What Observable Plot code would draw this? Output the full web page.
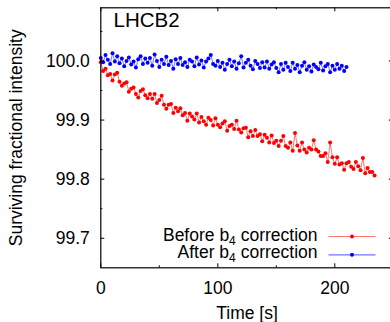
<!DOCTYPE html>
<html><head><meta charset="utf-8">
<script src="https://cdn.jsdelivr.net/npm/d3@7"></script>
<script src="https://cdn.jsdelivr.net/npm/@observablehq/plot@0.6"></script>
<style>body{margin:0;background:#fff;}</style>
</head><body><div id="chart"></div>
<script>
// ---- data ----
const sampleStep = 2; // seconds between samples
const beforeValues = [
  99.998, 99.983, 99.987, 99.976, 99.978, 99.967, 99.977, 99.980, 99.965, 99.958,
  99.962, 99.964, 99.948, 99.953, 99.955, 99.944, 99.938, 99.949, 99.952, 99.942,
  99.937, 99.944, 99.936, 99.944, 99.929, 99.934, 99.941, 99.926, 99.919, 99.926,
  99.927, 99.912, 99.921, 99.915, 99.920, 99.908, 99.912, 99.899, 99.911, 99.906,
  99.901, 99.911, 99.896, 99.905, 99.898, 99.892, 99.904, 99.900, 99.891, 99.903,
  99.892, 99.888, 99.894, 99.898, 99.882, 99.890, 99.892, 99.885, 99.899, 99.884,
  99.879, 99.886, 99.887, 99.871, 99.881, 99.873, 99.883, 99.873, 99.876, 99.864,
  99.875, 99.870, 99.862, 99.874, 99.861, 99.865, 99.856, 99.865, 99.873, 99.856,
  99.853, 99.862, 99.848, 99.878, 99.857, 99.848, 99.862, 99.850, 99.845, 99.853,
  99.850, 99.866, 99.850, 99.847, 99.839, 99.839, 99.844, 99.829, 99.862, 99.837,
  99.826, 99.837, 99.825, 99.827, 99.816, 99.827, 99.829, 99.821, 99.817, 99.829,
  99.822, 99.815, 99.836, 99.810, 99.819, 99.812, 99.812, 99.806
];
const afterValues = [
  100.005, 99.998, 100.010, 100.002, 99.995, 100.013, 99.999, 100.008, 99.996, 100.004,
  99.991, 100.000, 100.006, 99.994, 99.999, 99.989, 100.003, 100.008, 99.995, 100.004,
  99.997, 100.005, 99.992, 100.011, 100.000, 99.990, 100.002, 99.995, 100.007, 99.993,
  100.000, 99.987, 100.003, 99.995, 100.005, 99.993, 99.998, 99.990, 100.002, 99.999,
  99.991, 100.006, 99.994, 100.001, 99.989, 99.999, 100.004, 100.010, 99.995, 99.992,
  100.000, 99.990, 99.997, 99.985, 99.995, 100.002, 99.991, 99.999, 99.987, 99.996,
  100.008, 99.989, 99.997, 100.002, 99.992, 99.986, 100.000, 99.995, 99.988, 99.998,
  99.989, 99.999, 99.987, 99.994, 99.998, 99.988, 99.981, 99.995, 99.985, 99.997,
  99.990, 99.983, 99.997, 99.987, 99.993, 99.981, 99.992, 99.998, 99.985, 99.991,
  99.982, 99.994, 99.990, 99.986, 99.997, 99.984, 99.991, 99.995, 99.981, 99.992,
  99.985, 99.995, 99.987, 99.992, 99.983, 99.990
];
const seriesNames = ["Before b_4 correction", "After b_4 correction"];
const seriesColors = ["#ff0000", "#0000ff"];
const xDomain = [0, 250];
const yDomain = [99.65, 100.09];
const xMajorTicks = [0, 100, 200];
const xMinorTicks = [50, 150, 250];
const yMajorTicks = [99.7, 99.8, 99.9, 100.0];
const yMinorTicks = [99.75, 99.85, 99.95, 100.05];
const titleText = "LHCB2";
const xLabel = "Time [s]";
const yLabel = "Surviving fractional intensity";

// ---- layout ----
const width = 390, height = 322;
const marginLeft = 100.3, marginRight = -2.8, marginTop = 7.3, marginBottom = 54.7;
const plotW = width - marginLeft - marginRight;
const plotH = height - marginTop - marginBottom;
const majorLen = 4, minorLen = 2;
const fontSize = 17.5;

const toRows = (vals, name) => vals.map((v, i) => ({t: i * sampleStep, v, series: name}));
const before = toRows(beforeValues, seriesNames[0]);
const after = toRows(afterValues, seriesNames[1]);

const lineSymbol = {draw(ctx) { ctx.moveTo(-23.5, 0); ctx.lineTo(23.5, 0); }};
const legendDy = [-31.3, -13];
const legendTextDy = [-32.8, -15.3];

const seriesMarks = (rows, color) => [
  Plot.line(rows, {x: "t", y: "v", stroke: color, strokeOpacity: 0.55, strokeWidth: 1}),
  Plot.dot(rows, {x: "t", y: "v", fill: color, r: 2})
];

const legendMarks = seriesNames.flatMap((name, i) => [
  Plot.text([name], {frameAnchor: "bottom-right", text: d => d, textAnchor: "end", lineAnchor: "middle",
    dx: -75.8, dy: legendTextDy[i], fontSize, fill: "black"}),
  Plot.dot([name], {frameAnchor: "bottom-right", dx: -41.3, dy: legendDy[i], symbol: lineSymbol,
    fill: "none", stroke: seriesColors[i], strokeOpacity: 0.55, strokeWidth: 1.2}),
  Plot.dot([name], {frameAnchor: "bottom-right", dx: -41.3, dy: legendDy[i], r: 2, fill: seriesColors[i]})
]);

const tickMarks = (ticks, len) => [
  Plot.tickY(ticks, {y: d => d, insetRight: plotW - len, stroke: "black"}),
  Plot.tickY(ticks, {y: d => d, insetLeft: plotW - len, stroke: "black"}),
];
const tickMarksX = (ticks, len) => [
  Plot.tickX(ticks, {x: d => d, insetBottom: plotH - len, stroke: "black"}),
  Plot.tickX(ticks, {x: d => d, insetTop: plotH - len, stroke: "black"}),
];

const chart = Plot.plot({
  width, height, marginLeft, marginRight, marginTop, marginBottom,
  style: {fontFamily: "'Liberation Sans', Arial, Helvetica, sans-serif", background: "white", color: "black"},
  x: {domain: xDomain, axis: null},
  y: {domain: yDomain, axis: null},
  marks: [
    ...seriesMarks(before, seriesColors[0]),
    ...seriesMarks(after, seriesColors[1]),
    ...tickMarks(yMajorTicks, majorLen),
    ...tickMarks(yMinorTicks, minorLen),
    ...tickMarksX(xMajorTicks, majorLen),
    ...tickMarksX(xMinorTicks, minorLen),
    Plot.text(yMajorTicks, {y: d => d, frameAnchor: "left", text: d3.format(".1f"), textAnchor: "end", lineAnchor: "middle", dx: -11, fontSize}),
    Plot.text(xMajorTicks, {x: d => d, frameAnchor: "bottom", text: d => String(d), textAnchor: "middle", lineAnchor: "top", dy: 14, fontSize}),
    Plot.text([xLabel], {frameAnchor: "bottom", text: d => d, textAnchor: "middle", lineAnchor: "top", dy: 38.7, fontSize}),
    Plot.text([yLabel], {frameAnchor: "left", text: d => d, rotate: -90, textAnchor: "middle", lineAnchor: "middle", dx: -84.3, fontSize}),
    Plot.text([titleText], {frameAnchor: "top-left", text: d => d, textAnchor: "start", lineAnchor: "top", dx: 12.7, dy: 4.4, fontSize: 20.5}),
    ...legendMarks,
    Plot.frame({stroke: "black", strokeWidth: 1.2})
  ]
});

// subscripts in legend labels ("b_4" -> b with subscript 4)
const NS = "http://www.w3.org/2000/svg";
chart.querySelectorAll("text").forEach(t => {
  const s = t.textContent;
  if (!s.includes("_")) return;
  const parts = s.split(/_(\d)/);
  t.textContent = "";
  parts.forEach((p, i) => {
    const ts = document.createElementNS(NS, "tspan");
    ts.textContent = p;
    if (i % 2 === 1) { ts.setAttribute("font-size", "12px"); ts.setAttribute("dy", "4"); }
    else if (i > 0) { ts.setAttribute("dy", "-4"); }
    t.appendChild(ts);
  });
});

document.getElementById("chart").appendChild(chart);
</script>
</body></html>
